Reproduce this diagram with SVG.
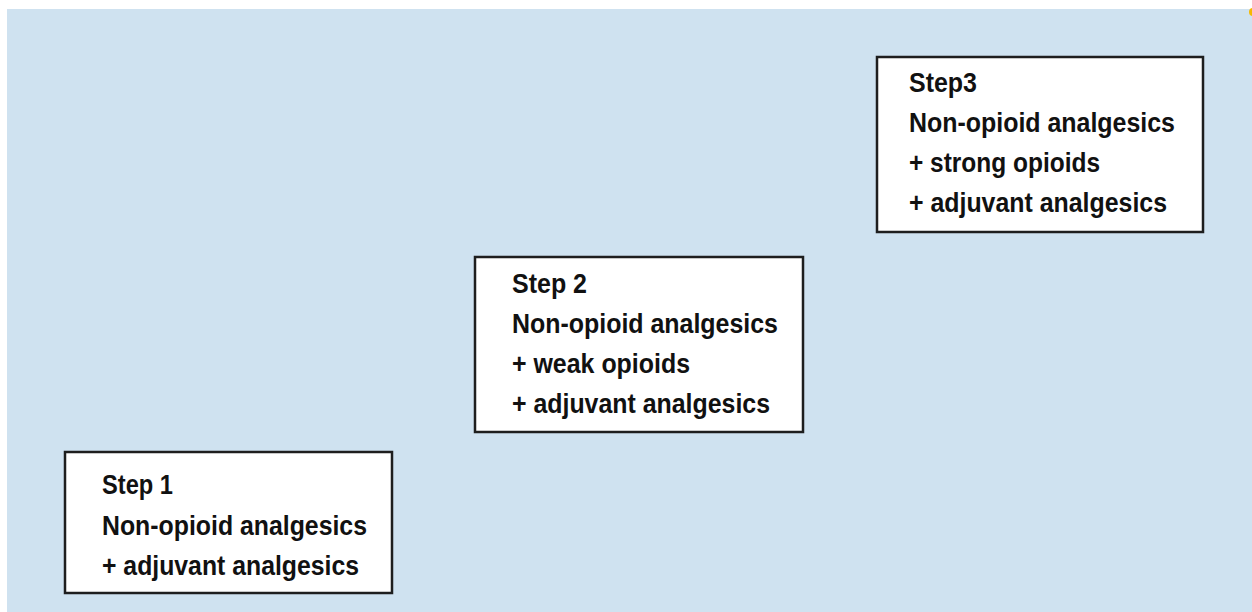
<svg xmlns="http://www.w3.org/2000/svg" width="1252" height="612" viewBox="0 0 1252 612">
<style>
.bg{fill:#cfe2f0}
.box{fill:#ffffff;stroke:#1e1e1e;stroke-width:2.5}
.t{font-family:"Liberation Sans",Arial,sans-serif;font-size:27px;font-weight:bold;fill:#111111}
</style>
<rect x="0" y="0" width="1252" height="612" fill="#ffffff"/>
<rect class="bg" x="7" y="9" width="1245" height="603"/>
<circle cx="1253" cy="12" r="4" fill="#f5b800"/>
<g id="connectors"></g>
<g id="step1">
<rect class="box" x="65" y="452" width="327" height="141"/>
<text class="t" x="102" y="494" textLength="71" lengthAdjust="spacingAndGlyphs">Step 1</text>
<text class="t" x="102" y="535" textLength="265" lengthAdjust="spacingAndGlyphs">Non-opioid analgesics</text>
<text class="t" x="102" y="575" textLength="257" lengthAdjust="spacingAndGlyphs">+ adjuvant analgesics</text>
</g>
<g id="step2">
<rect class="box" x="475" y="257" width="328" height="175"/>
<text class="t" x="512" y="293" textLength="75" lengthAdjust="spacingAndGlyphs">Step 2</text>
<text class="t" x="512" y="333" textLength="266" lengthAdjust="spacingAndGlyphs">Non-opioid analgesics</text>
<text class="t" x="512" y="373" textLength="178" lengthAdjust="spacingAndGlyphs">+ weak opioids</text>
<text class="t" x="512" y="413" textLength="258" lengthAdjust="spacingAndGlyphs">+ adjuvant analgesics</text>
</g>
<g id="step3">
<rect class="box" x="877" y="57" width="326" height="175"/>
<text class="t" x="909" y="92" textLength="68" lengthAdjust="spacingAndGlyphs">Step3</text>
<text class="t" x="909" y="132" textLength="266" lengthAdjust="spacingAndGlyphs">Non-opioid analgesics</text>
<text class="t" x="909" y="172" textLength="191" lengthAdjust="spacingAndGlyphs">+ strong opioids</text>
<text class="t" x="909" y="212" textLength="258" lengthAdjust="spacingAndGlyphs">+ adjuvant analgesics</text>
</g>
</svg>
